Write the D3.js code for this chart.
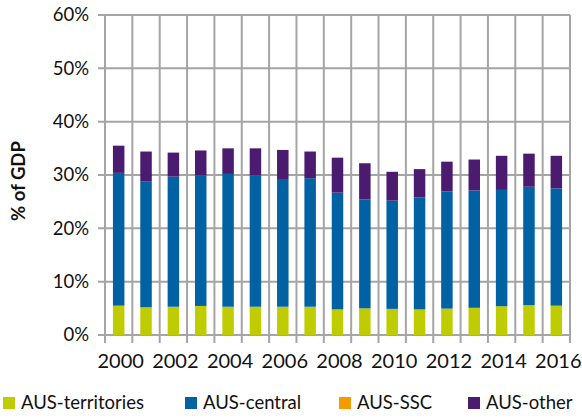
<!DOCTYPE html>
<html><head><meta charset="utf-8">
<script src="https://cdn.jsdelivr.net/npm/d3@7"></script>
<style>
html,body{margin:0;padding:0;background:#fff;}
svg{display:block;font-family:Lato, "Noto Sans", sans-serif;}
</style></head>
<body>
<svg id="chart" width="582" height="419"></svg>
<script>
const years = [2000,2001,2002,2003,2004,2005,2006,2007,2008,2009,2010,2011,2012,2013,2014,2015,2016];
const territories = [5.5,5.2,5.3,5.45,5.3,5.3,5.3,5.3,4.8,5.0,4.9,4.8,4.95,5.1,5.4,5.6,5.5];
const central = [24.9,23.55,24.4,24.45,24.9,24.6,23.95,24.1,21.9,20.4,20.3,21.0,21.95,22.0,21.8,22.2,22.0];
const ssc = [0,0,0,0,0,0,0,0,0,0,0,0,0,0,0,0,0];
const other = [5.1,5.65,4.5,4.7,4.8,5.1,5.45,5.0,6.55,6.8,5.4,5.3,5.6,5.8,6.4,6.2,6.1];
const yTicks = [0,10,20,30,40,50,60];
const xLabels = [2000,2002,2004,2006,2008,2010,2012,2014,2016];
const seriesNames = ["AUS-territories","AUS-central","AUS-SSC","AUS-other"];
const colors = ["#bfcd00","#0062a3","#f49b00","#4a1b6e"];

const svg = d3.select("#chart");
const pLeft = 105, pRight = 570, pTop = 15, pBottom = 335;
const x = d3.scaleBand().domain(years).range([pLeft, pRight]).paddingInner(0).paddingOuter(0);
const y = d3.scaleLinear().domain([0,60]).range([pBottom, pTop]);
const grid = "#a5a5a5";

// horizontal gridlines
svg.append("g").selectAll("line").data(yTicks).join("line")
  .attr("x1", pLeft-7).attr("x2", pRight)
  .attr("y1", d=>y(d)).attr("y2", d=>y(d))
  .attr("stroke", grid).attr("stroke-width", 2);
// vertical gridlines
const bounds = years.map(d=>x(d)).concat([pRight]);
svg.append("g").selectAll("line").data(bounds).join("line")
  .attr("x1", d=>d).attr("x2", d=>d)
  .attr("y1", pTop).attr("y2", pBottom+8)
  .attr("stroke", grid).attr("stroke-width", 2);

// stacked bars
const table = years.map((yr,i)=>({year:yr, "AUS-territories":territories[i], "AUS-central":central[i], "AUS-SSC":ssc[i], "AUS-other":other[i]}));
const stack = d3.stack().keys(seriesNames)(table);
const bw = x.bandwidth()*0.42;
svg.append("g").selectAll("g").data(stack).join("g")
  .attr("fill", (d,i)=>colors[i])
  .selectAll("rect").data(d=>d).join("rect")
  .attr("x", d=>x(d.data.year)+x.bandwidth()/2-bw/2)
  .attr("width", bw)
  .attr("y", d=>y(d[1]))
  .attr("height", d=>Math.max(0, y(d[0])-y(d[1])));

// y tick labels
svg.append("g").selectAll("text").data(yTicks).join("text")
  .attr("x", 89).attr("y", d=>y(d))
  .attr("dy","0.35em").attr("text-anchor","end")
  .attr("font-size", 18.5).attr("fill","#111")
  .text(d=>d+"%");

// x labels
svg.append("g").selectAll("text").data(xLabels).join("text")
  .attr("x", d=>x(d)+x.bandwidth()/2+2).attr("y", 361)
  .attr("dy","0.35em").attr("text-anchor","middle")
  .attr("font-size", 20).attr("fill","#111")
  .text(d=>d);

// y title
svg.append("text")
  .attr("transform","translate(19,181) rotate(-90)")
  .attr("text-anchor","middle").attr("dy","0.35em")
  .attr("font-size", 18.5).attr("font-weight","bold").attr("fill","#111")
  .text("% of GDP");

// legend
const legX = [3,185,339,468];
const leg = svg.append("g").selectAll("g").data(seriesNames).join("g")
  .attr("transform",(d,i)=>`translate(${legX[i]},397)`);
leg.append("rect").attr("width",12).attr("height",12).attr("fill",(d,i)=>colors[i]);
leg.append("text").attr("x",18).attr("y",6).attr("dy","0.35em")
  .attr("font-size",18.5).attr("fill","#111").text(d=>d);
</script>
</body></html>
